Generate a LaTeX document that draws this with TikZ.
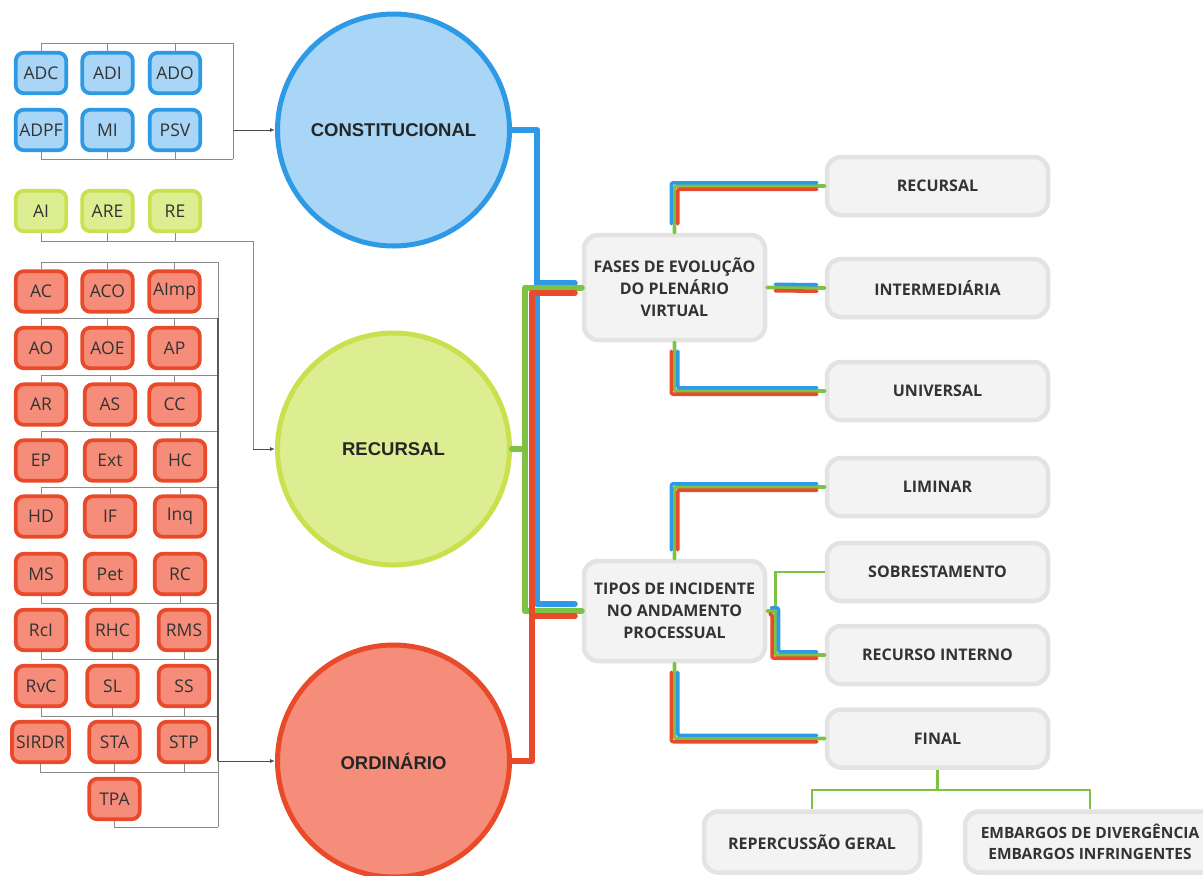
\documentclass[tikz,border=0pt]{standalone}
\usepackage{fontspec}
\setmainfont{Open Sans}
\newfontfamily\arialfam{Liberation Sans}
\usetikzlibrary{arrows.meta,calc}
\definecolor{cblue}{HTML}{2E9AE6}
\definecolor{lblue}{HTML}{A9D5F6}
\definecolor{cgreen}{HTML}{7DC242}
\definecolor{ygreen}{HTML}{C9E14E}
\definecolor{lygreen}{HTML}{DDED91}
\definecolor{cred}{HTML}{E84A2A}
\definecolor{lred}{HTML}{F58D7A}
\definecolor{gbox}{HTML}{F3F3F3}
\definecolor{gborder}{HTML}{E3E3E3}
\definecolor{bline}{HTML}{8A8A8A}
\definecolor{tdark}{HTML}{333333}
\tikzset{
  sbox/.style={rounded corners=8pt, line width=3.8pt, minimum width=50.5pt,
    minimum height=40.5pt, inner sep=0pt, text=tdark,
    font=\fontsize{17.5}{19}\selectfont},
  bbx/.style={sbox, draw=cblue, fill=lblue},
  gbx/.style={sbox, draw=ygreen, fill=lygreen},
  rbx/.style={sbox, draw=cred, fill=lred},
  circ/.style={circle, minimum size=232pt, line width=5pt, inner sep=0pt,
    text=black!85, font=\arialfam\bfseries\fontsize{18.5}{20}\selectfont},
  gb/.style={draw=gborder, fill=gbox, line width=4.5pt, rounded corners=14pt,
    inner sep=0pt, align=center, text=tdark,
    font=\bfseries\fontsize{16}{22}\selectfont},
  rb/.style={gb, minimum width=221pt, minimum height=58pt},
  brk/.style={draw=bline, line width=1pt},
  arr/.style={draw=black!70, line width=1pt, -{Latex[length=5pt,width=4pt]}},
  trunk/.style={line width=6pt, line cap=round, line join=round},
  con/.style={line width=3.6pt, line cap=round, line join=round, rounded corners=2pt},
  fl/.style={draw=cgreen, line width=2.5pt}
}
\begin{document}
\begin{tikzpicture}[x=1pt,y=-1pt]
\useasboundingbox[fill=white] (0,0) rectangle (1203,876);

% ---------- circles
\node[circ, draw=cblue, fill=lblue] (const) at (393.5,130) {CONSTITUCIONAL};
\node[circ, draw=ygreen, fill=lygreen] (recur) at (393.5,449) {RECURSAL};
\node[circ, draw=cred, fill=lred] (ordin) at (393.5,761) {ORDINÁRIO};

% ---------- blue boxes
\node[bbx] (ADC) at (41,73) {ADC};
\node[bbx] (ADI) at (107.5,73) {ADI};
\node[bbx] (ADO) at (175,73) {ADO};
\node[bbx] (ADPF) at (41,130) {ADPF};
\node[bbx] (MI) at (107.5,130) {MI};
\node[bbx] (PSV) at (175,130) {PSV};

% ---------- green boxes
\node[gbx] (AI) at (41,211) {AI};
\node[gbx] (ARE) at (107.5,211) {ARE};
\node[gbx] (RE) at (175,211) {RE};

% ---------- red boxes
\node[rbx] (AC) at (41,291.5) {AC};
\node[rbx] (ACO) at (107.5,291.5) {ACO};
\node[rbx] (AImp) at (174.5,291.5) {AImp};
\node[rbx] (AO) at (41,348) {AO};
\node[rbx] (AOE) at (107.5,348) {AOE};
\node[rbx] (AP) at (174.5,348) {AP};
\node[rbx] (AR) at (41,404.5) {AR};
\node[rbx] (AS) at (110,404.5) {AS};
\node[rbx] (CC) at (174.5,404.5) {CC};
\node[rbx] (EP) at (41,460.5) {EP};
\node[rbx] (Ext) at (110,460.5) {Ext};
\node[rbx] (HC) at (180,460.5) {HC};
\node[rbx] (HD) at (41,516.5) {HD};
\node[rbx] (IF) at (110,516.5) {IF};
\node[rbx] (Inq) at (180,516.5) {Inq};
\node[rbx] (MS) at (41,574) {MS};
\node[rbx] (Pet) at (110,574) {Pet};
\node[rbx] (RC) at (180,574) {RC};
\node[rbx] (RcI) at (41,630) {RcI};
\node[rbx] (RHC) at (112.5,630) {RHC};
\node[rbx] (RMS) at (184,630) {RMS};
\node[rbx] (RvC) at (41,686) {RvC};
\node[rbx] (SL) at (112.5,686) {SL};
\node[rbx] (SS) at (184,686) {SS};
\node[rbx, minimum width=57pt] (SIRDR) at (40.5,742) {SIRDR};
\node[rbx] (STA) at (114.5,742) {STA};
\node[rbx] (STP) at (184,742) {STP};
\node[rbx] (TPA) at (114.5,799) {TPA};

% ---------- bracket coordinates
\coordinate (bTR) at (233,43);
\coordinate (bBR) at (233,159);
\coordinate (bJ) at (233,130);
\coordinate (gBR) at (253,241);
\coordinate (gJ) at (253,449);
\coordinate (rR1) at (218,262);
\coordinate (rR2) at (218,318);
\coordinate (rR3) at (218,375);
\coordinate (rR4) at (218,431);
\coordinate (rR5) at (218,487);
\coordinate (rR6) at (218,603);
\coordinate (rR7) at (218,659);
\coordinate (rR8) at (218,716);
\coordinate (rR9) at (218,772);
\coordinate (rR10) at (218,827);
\coordinate (rJ) at (218,761);

% blue bracket
\foreach \b in {ADC,ADI,ADO} \draw[brk] (\b.north) |- (bTR);
\foreach \b in {ADPF,MI,PSV} \draw[brk] (\b.south) |- (bBR);
\draw[brk] (bTR) -- (bBR);
\draw[arr] (bJ) -- (bJ -| const.west);

% green bracket
\foreach \b in {AI,ARE,RE} \draw[brk] (\b.south) |- (gBR);
\draw[brk] (gBR) -- (gJ);
\draw[arr] (gJ) -- (gJ -| recur.west);

% red brackets
\foreach \b in {AC,ACO,AImp} \draw[brk] (\b.north) |- (rR1);
\foreach \b in {AO,AOE,AP} \draw[brk] (\b.north) |- (rR2);
\foreach \b in {AR,AS,CC} \draw[brk] (\b.north) |- (rR3);
\foreach \b in {EP,Ext,HC} \draw[brk] (\b.north) |- (rR4);
\foreach \b in {HD,IF,Inq} \draw[brk] (\b.north) |- (rR5);
\foreach \b in {MS,Pet,RC} \draw[brk] (\b.south) |- (rR6);
\foreach \b in {RcI,RHC,RMS} \draw[brk] (\b.south) |- (rR7);
\foreach \b in {RvC,SL,SS} \draw[brk] (\b.south) |- (rR8);
\foreach \b in {SIRDR,STA,STP} \draw[brk] (\b.south) |- (rR9);
\draw[brk] (TPA.south) |- (rR10);
\draw[brk] (rR1) -- (rR10);
\draw[brk, line width=1.6pt, draw=black!65] (rR2) -- (rJ);
\draw[arr] (rJ) -- (rJ -| ordin.west);

% ---------- right boxes
\node[gb, minimum width=181pt, minimum height=105pt] (fases) at (674.5,287.5)
  {FASES DE EVOLUÇÃO\\DO PLENÁRIO\\VIRTUAL};
\node[gb, minimum width=181pt, minimum height=100pt] (tipos) at (674.5,611)
  {TIPOS DE INCIDENTE\\NO ANDAMENTO\\PROCESSUAL};
\node[rb] (r1) at (937.5,186) {RECURSAL};
\node[rb] (r2) at (937.5,288) {INTERMEDIÁRIA};
\node[rb] (r3) at (937.5,391) {UNIVERSAL};
\node[rb] (t1) at (937.5,487) {LIMINAR};
\node[rb] (t2) at (937.5,572) {SOBRESTAMENTO};
\node[rb] (t3) at (937.5,655) {RECURSO INTERNO};
\node[rb] (t4) at (937.5,738.5) {FINAL};
\node[rb, minimum width=216pt, minimum height=61pt] (f1) at (812,842) {REPERCUSSÃO GERAL};
\node[rb, minimum width=250pt, minimum height=61pt, font=\bfseries\fontsize{15.5}{21}\selectfont] (f2) at (1090,842)
  {EMBARGOS DE DIVERGÊNCIA\\EMBARGOS INFRINGENTES};

% ---------- trunk lines
\coordinate (bx) at (537,0);
\coordinate (gx) at (525,0);
\coordinate (rx) at (532,0);
\draw[trunk, cblue] (const.east) -| ($(bx |- tipos.west)+(0,-7)$) -- ($(tipos.west)+(-7,-7)$);
\draw[trunk, cblue] ($(bx |- fases.west)+(0,-4.5)$) -- ($(fases.west)+(-7,-4.5)$);
\draw[trunk, cgreen] (recur.east) -- (recur.east -| gx);
\draw[trunk, cgreen] (fases.west) -| (gx |- tipos.west) -- (tipos.west);
\draw[trunk, cred] (ordin.east) -| ($(rx |- fases.west)+(0,5.5)$) -- ($(fases.west)+(-7,5.5)$);
\draw[trunk, cred] ($(rx |- tipos.west)+(0,5)$) -- ($(tipos.west)+(-7,5)$);

% ---------- fases connectors
\draw[con, cgreen] (fases.north) |- (r1.west);
\draw[con, cblue] ($(fases.north)+(-3.2,-9)$) |- ($(r1.west)+(-8,-3.2)$);
\draw[con, cred] ($(fases.north)+(3.2,-9)$) |- ($(r1.west)+(-8,3.2)$);

\draw[con, cgreen] (fases.east) -- (r2.west);
\draw[con, cblue] ($(fases.east)+(8,-3.2)$) -- ($(r2.west)+(-8,-3.2)$);
\draw[con, cred] ($(fases.east)+(8,3.2)$) -- ($(r2.west)+(-8,3.2)$);

\draw[con, cgreen] (fases.south) |- (r3.west);
\draw[con, cblue] ($(fases.south)+(3.2,9)$) |- ($(r3.west)+(-8,-3.2)$);
\draw[con, cred] ($(fases.south)+(-3.2,9)$) |- ($(r3.west)+(-8,3.2)$);

% ---------- tipos connectors
\draw[con, cgreen] (tipos.north) |- (t1.west);
\draw[con, cblue] ($(tipos.north)+(-3.2,-9)$) |- ($(t1.west)+(-8,-3.2)$);
\draw[con, cred] ($(tipos.north)+(3.2,-9)$) |- ($(t1.west)+(-8,3.2)$);

\coordinate (tj) at ($(tipos.east)+(8,0)$);
\draw[fl] (tj) |- (t2.west);

\draw[con, cgreen] (tipos.east) -- (tj) |- (t3.west);
\draw[con, cblue] ($(tipos.east)+(4,-3.2)$) -- ($(tj)+(3.2,-3.2)$) |- ($(t3.west)+(-8,-3.2)$);
\draw[con, cred] ($(tipos.east)+(4,3.2)$) -- ($(tj)+(-3.2,3.2)$) |- ($(t3.west)+(-8,3.2)$);

\draw[con, cgreen] (tipos.south) |- (t4.west);
\draw[con, cblue] ($(tipos.south)+(3.2,9)$) |- ($(t4.west)+(-8,-3.2)$);
\draw[con, cred] ($(tipos.south)+(-3.2,9)$) |- ($(t4.west)+(-8,3.2)$);

% ---------- final children
\coordinate (fj) at ($(t4.south)+(0,20)$);
\draw[fl] (t4.south) -- (fj);
\draw[fl] (fj) -| (f1.north);
\draw[fl] (fj) -| (f2.north);
\end{tikzpicture}
\end{document}
